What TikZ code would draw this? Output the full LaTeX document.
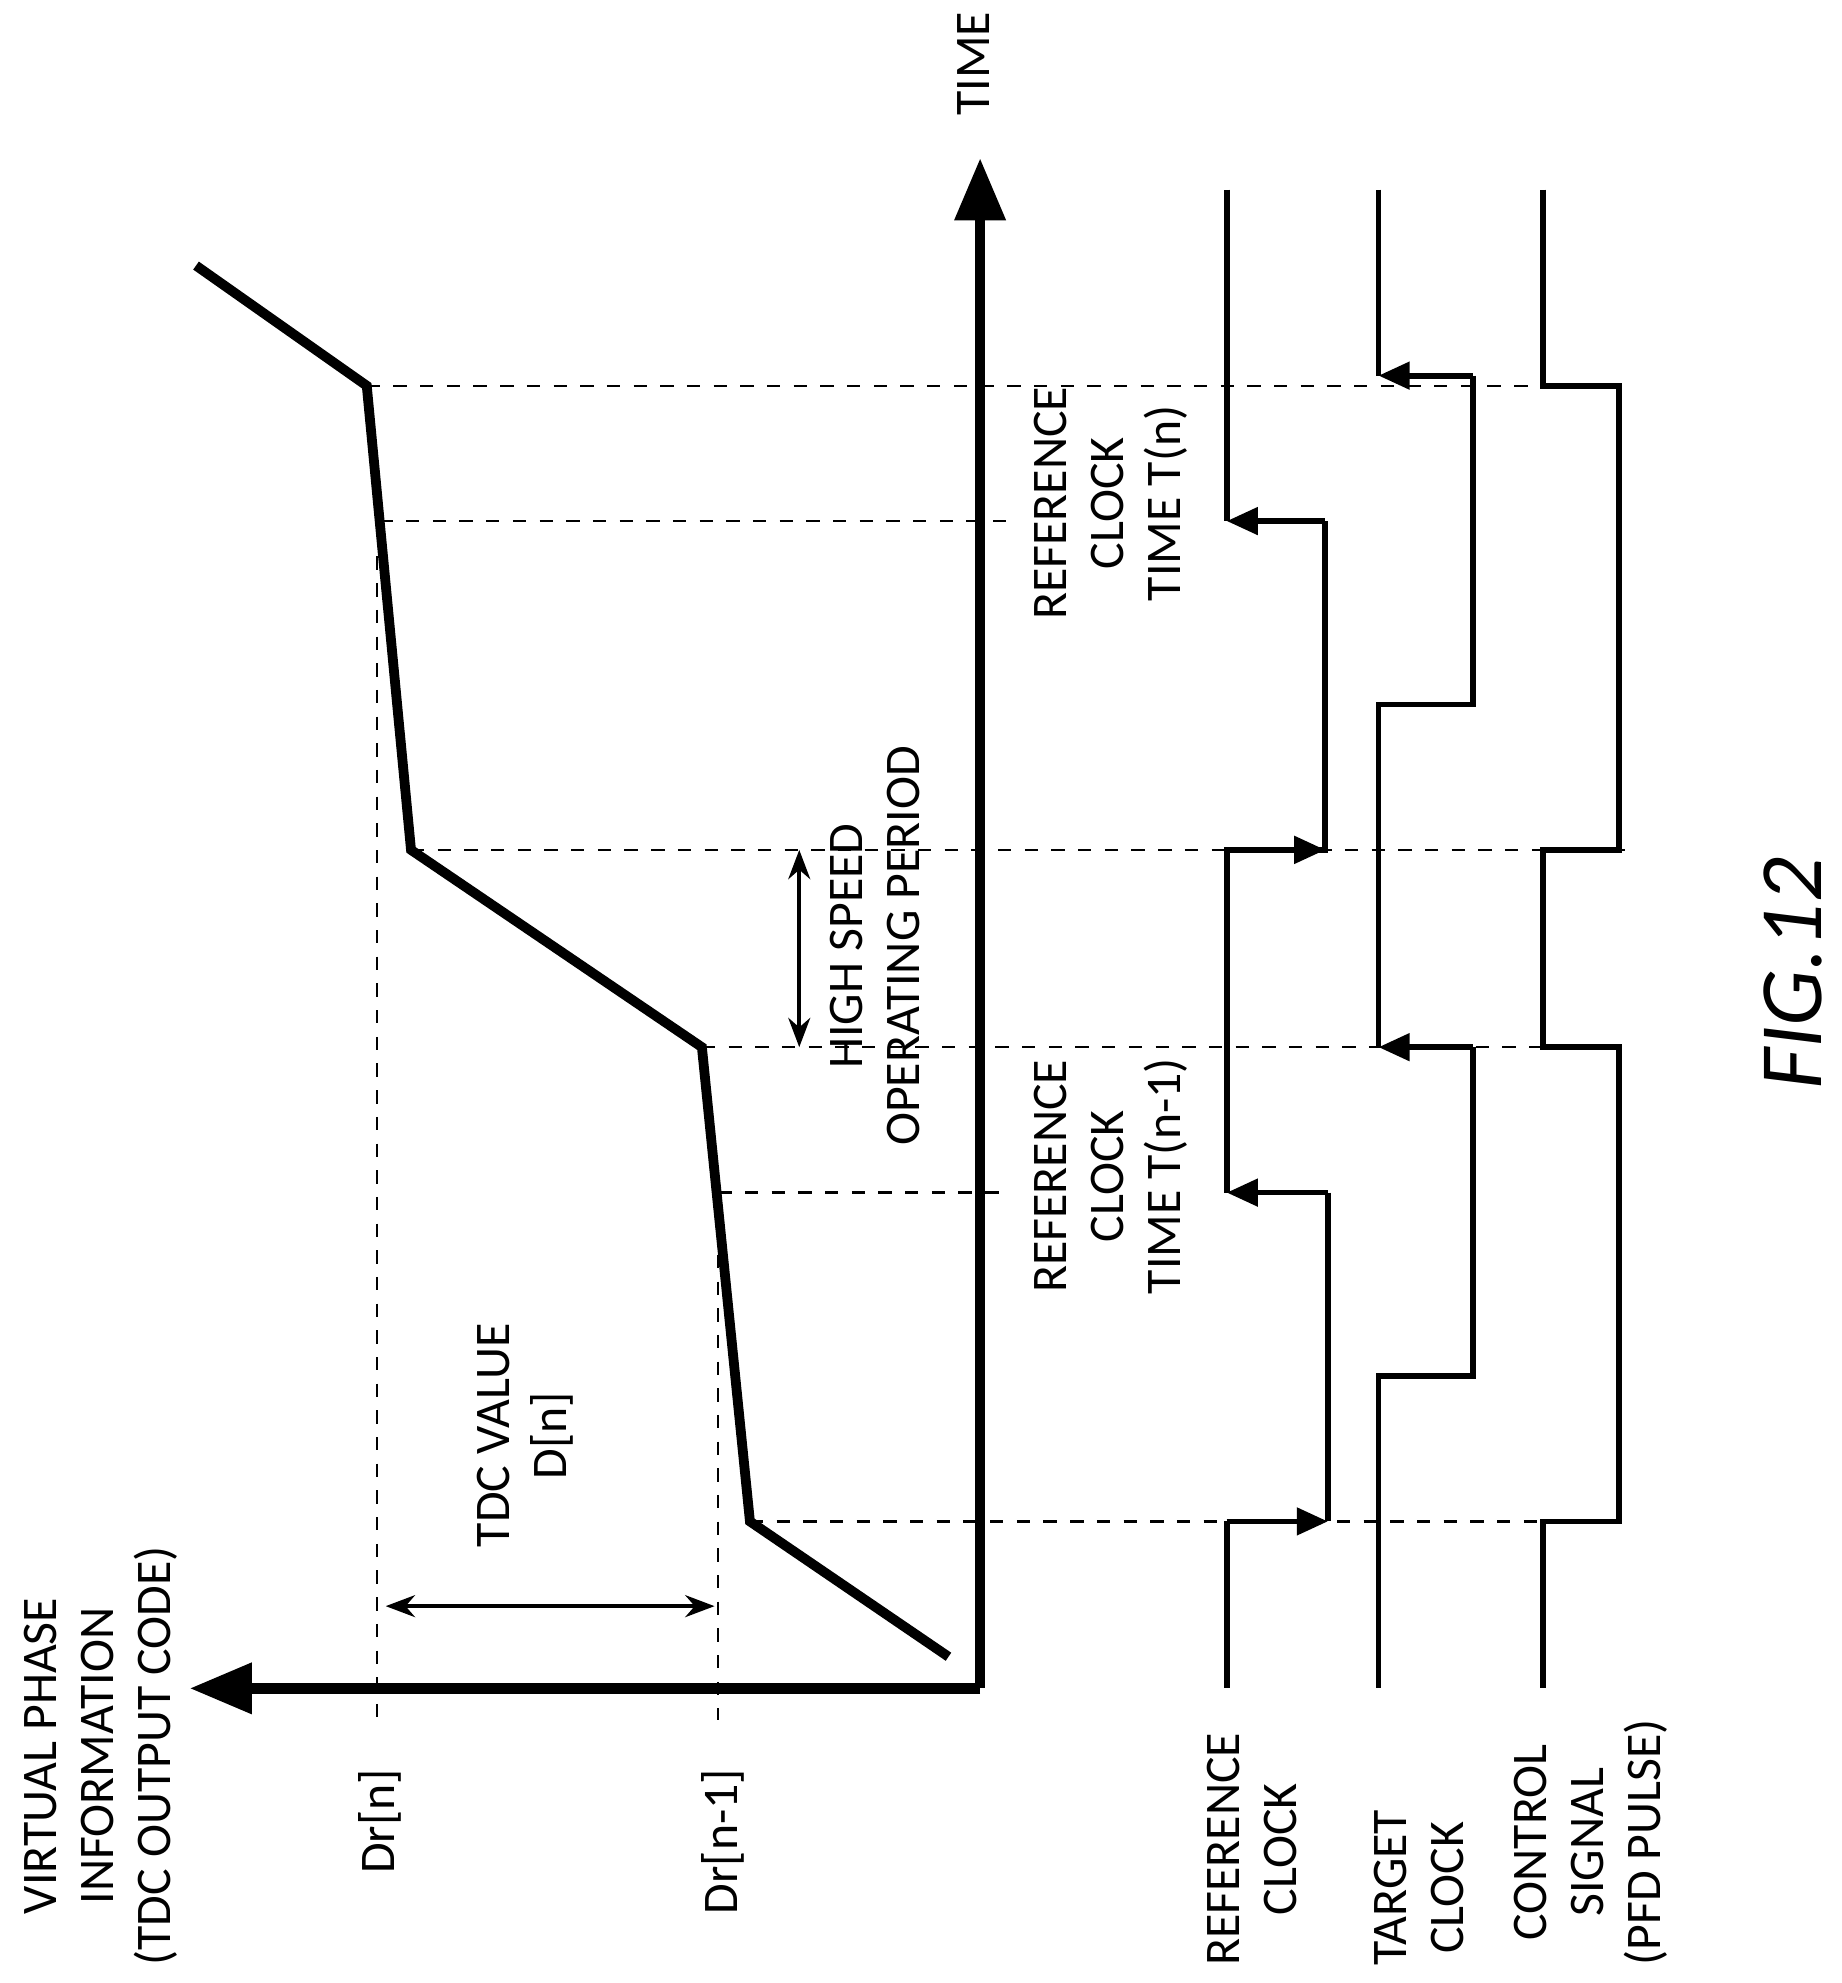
\documentclass[tikz,border=0pt]{standalone}
\usepackage{fontspec}
\setmainfont{Carlito}
\usetikzlibrary{arrows.meta}
\begin{document}
\begin{tikzpicture}[x=0.01cm,y=-0.01cm,
    axis/.style={line width=2.4pt,-{Triangle[length=14pt,width=11pt]}},
    curve/.style={line width=2.2pt},
    wave/.style={line width=1.3pt},
    edge/.style={line width=1.3pt,-{Triangle[length=7pt,width=6pt]}},
    guide/.style={dashed,line width=0.5pt},
    span/.style={line width=0.8pt,{Stealth}-{Stealth}},
    lbl/.style={rotate=90,align=center,inner sep=0pt,font=\fontsize{11.2}{12.8}\selectfont}]
  \useasboundingbox (0,0) rectangle (1456,1568);
  % axes
  \coordinate (o) at (775,1335);
  \coordinate (t) at (775,125);
  \coordinate (p) at (150,1335);
  \draw[axis] (o) -- (t);
  \draw[axis] (o) -- (p);
  % phase curve
  \coordinate (c0) at (750,1310);
  \coordinate (c1) at (593,1203);
  \coordinate (c2) at (555,828);
  \coordinate (c3) at (325,672);
  \coordinate (c4) at (290,305);
  \coordinate (c5) at (155,210);
  \draw[curve] (c0) -- (c1) -- (c2) -- (c3) -- (c4) -- (c5);
  % guides
  \draw[guide] (c4) -- (1225,305);
  \draw[guide] (300,412) -- (800,412);
  \draw[guide] (c3) -- (1290,672);
  \draw[guide] (c2) -- (1225,828);
  \draw[guide] (568,943) -- (800,943);
  \draw[guide] (c1) -- (1225,1203);
  \draw[guide] (298,440) -- (298,1360);
  \draw[guide] (568,950) -- (568,1360);
  % spans
  \draw[span] (632,672) -- (632,828);
  \draw[span] (305,1270) -- (565,1270);
  % reference clock
  \draw[wave] (970,150) -- (970,412) (1048,412) -- (1048,672) -- (970,672) -- (970,943)
    (1050,943) -- (1050,1203) (970,1203) -- (970,1335);
  \draw[edge] (1048,412) -- (970,412);
  \draw[edge] (970,1203) -- (1050,1203);
  \draw[edge] (1050,943) -- (970,943);
  \draw[edge] (970,672) -- (1048,672);
  % target clock
  \draw[wave] (1090,150) -- (1090,297) (1165,297) -- (1165,557) -- (1090,557) -- (1090,828)
    (1165,828) -- (1165,1088) -- (1090,1088) -- (1090,1335);
  \draw[edge] (1165,297) -- (1090,297);
  \draw[edge] (1165,828) -- (1090,828);
  % control signal
  \draw[wave] (1220,150) -- (1220,305) -- (1280,305) -- (1280,672) -- (1220,672) -- (1220,828)
    -- (1280,828) -- (1280,1203) -- (1220,1203) -- (1220,1335);
  % labels
  \node[lbl,anchor=west] (ltime) at (770,92) {TIME};
  \node[lbl,anchor=west] (lphase) at (80,1555) {VIRTUAL PHASE\\INFORMATION\\(TDC OUTPUT CODE)};
  \node[lbl,anchor=east] (ldn) at (300,1398) {Dr[n]};
  \node[lbl,anchor=east] (ldn1) at (572,1398) {Dr[n-1]};
  \node[lbl] (ltdc) at (415,1135) {TDC VALUE\\D[n]};
  \node[lbl] (lhigh) at (692,748) {HIGH SPEED\\OPERATING PERIOD};
  \node[lbl] (lrn) at (878,398) {REFERENCE\\CLOCK\\TIME T(n)};
  \node[lbl] (lrn1) at (878,930) {REFERENCE\\CLOCK\\TIME T(n-1)};
  \node[lbl,anchor=west] (lref) at (990,1555) {REFERENCE\\CLOCK};
  \node[lbl,anchor=west] (ltgt) at (1122,1555) {TARGET\\CLOCK};
  \node[lbl,anchor=west] (lctl) at (1258,1555) {CONTROL\\SIGNAL\\(PFD PULSE)};
  \node[rotate=90,font=\fontsize{20}{24}\selectfont\itshape] (lfig) at (1418,770) {FIG.12};
\end{tikzpicture}
\end{document}
